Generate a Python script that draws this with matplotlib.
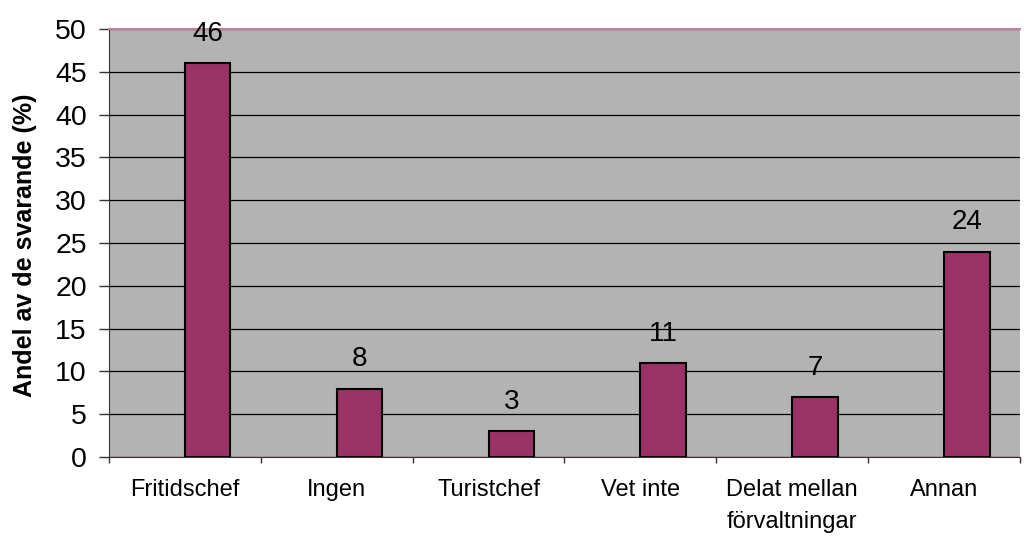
import matplotlib
matplotlib.use("Agg")
import matplotlib.pyplot as plt
import numpy as np

categories = ["Fritidschef", "Ingen", "Turistchef", "Vet inte", "Delat mellan\nförvaltningar", "Annan"]
values = [46, 8, 3, 11, 7, 24]
yticks = [0, 5, 10, 15, 20, 25, 30, 35, 40, 45, 50]
ylabel = "Andel av de svarande (%)"

plt.rcParams['font.family'] = ['Liberation Sans', 'DejaVu Sans']

fig = plt.figure(figsize=(10.24, 5.36), dpi=100)
ax = fig.add_axes([109/1024, 1-457/536, (1020-109)/1024, (457-29)/536])
ax.set_facecolor('#b3b3b3')

x = np.arange(len(categories))
bar_w = 0.30
ax.bar(x, values, width=bar_w, align='edge', color='#993366',
       edgecolor='black', linewidth=1.5, zorder=3)
for xi, v in zip(x, values):
    ax.annotate(str(v), (xi + bar_w/2, v), xytext=(0, 16), textcoords='offset points',
                ha='center', va='baseline', fontsize=20, color='black', zorder=4,
                annotation_clip=False)

ax.set_xlim(-0.5, len(categories) - 0.5)
ax.set_ylim(0, 50)
ax.set_yticks(yticks)
ax.set_yticklabels([str(t) for t in yticks], fontsize=20.5)
ax.yaxis.grid(True, color='black', linewidth=0.9, zorder=1)
ax.set_axisbelow(True)

ax.set_xticks(x)
ax.set_xticklabels(categories, fontsize=17, linespacing=1.55, va='top')
ax.tick_params(axis='x', length=0, pad=16)
ax.set_xticks(np.arange(len(categories) + 1) - 0.5, minor=True)
ax.tick_params(axis='x', which='minor', length=4.5, width=1, color='#333333', direction='out')
ax.tick_params(axis='y', length=7, width=1, color='#333333', direction='out', pad=9)

fig.text(25/1024, 1-245/536, ylabel, rotation=90, ha='center', va='center',
         fontsize=18, fontweight='bold')

ax.spines['right'].set_visible(False)
ax.spines['top'].set_color('#c080a0')
ax.spines['top'].set_linewidth(1.5)
ax.spines['left'].set_color('#333333')
ax.spines['bottom'].set_color('#4a2a38')

fig.savefig('out.png', dpi=100, facecolor='white')
